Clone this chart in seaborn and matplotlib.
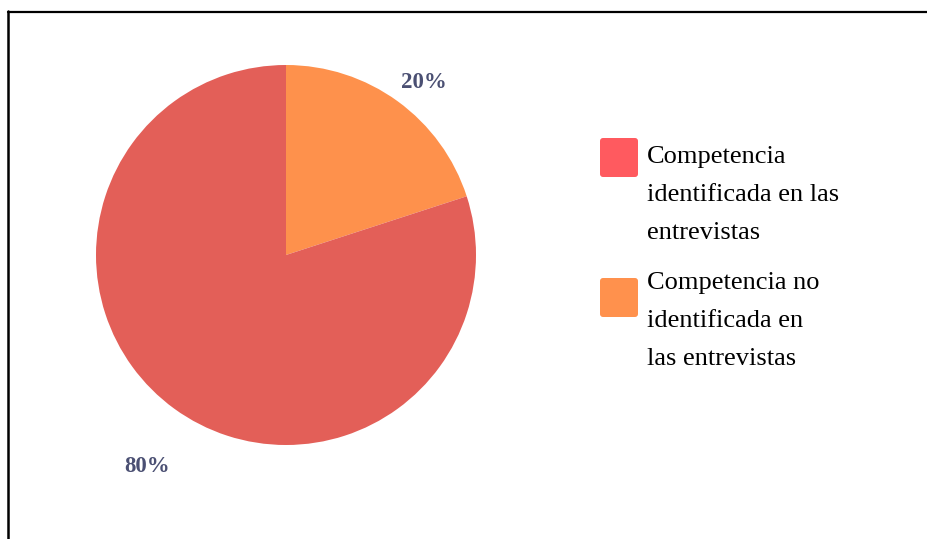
import matplotlib
matplotlib.use("Agg")
import matplotlib.pyplot as plt
from matplotlib.patches import FancyBboxPatch
from matplotlib.lines import Line2D
from matplotlib.transforms import ScaledTranslation
import numpy as np
import seaborn as sns

sns.set_theme(style="white")
plt.rcParams["font.family"] = ["Liberation Serif", "DejaVu Serif"]

# Shares of the competence in the interviews (drawn clockwise from 12 o'clock)
categories = ["Competencia no\nidentificada en\nlas entrevistas",
              "Competencia\nidentificada en las\nentrevistas"]
values = [20, 80]
pct_labels = ["20%", "80%"]
wedge_colors = ["#FE914C", "#E35F58"]
legend_colors = ["#FF914D", "#FF5A5F"]
label_dist = [1.175, 1.32]
label_turn = [-2.3, 2.4]

W, H = 928, 539
fig = plt.figure(figsize=(W / 100, H / 100), dpi=100)
fig.patch.set_facecolor("white")

cx, cy, r = 286, 255, 190
ax = fig.add_axes([(cx - r) / W, (H - cy - r) / H, 2 * r / W, 2 * r / H])
wedges, _ = ax.pie(values, colors=wedge_colors, startangle=90,
                   counterclock=False, radius=1.0,
                   wedgeprops=dict(linewidth=0))
ax.set_xlim(-1, 1)
ax.set_ylim(-1, 1)
ax.set_aspect("equal")
ax.axis("off")

nudge = ax.transData + ScaledTranslation(0, -0.03, fig.dpi_scale_trans)
for w, lab, d, turn in zip(wedges, pct_labels, label_dist, label_turn):
    ang = np.deg2rad((w.theta1 + w.theta2) / 2 + turn)
    ax.text(d * np.cos(ang), d * np.sin(ang), lab, ha="center", va="center",
            fontsize=16.5, fontweight="bold", color="#4B5073",
            transform=nudge)

# Legend drawn as rounded swatches plus wrapped labels (identified first)
inch = fig.dpi_scale_trans
entries = [(categories[1], legend_colors[1], 138, 195),
           (categories[0], legend_colors[0], 278, 321)]
for text, color, top_px, mid_px in entries:
    box = FancyBboxPatch(((600) / 100, (H - top_px - 39) / 100),
                         38 / 100, 39 / 100,
                         boxstyle="round,pad=0,rounding_size=0.03",
                         transform=inch, facecolor=color, edgecolor="none")
    fig.add_artist(box)
    fig.text(647 / W, 1 - mid_px / H, text, ha="left", va="center",
             fontsize=19, color="black", linespacing=1.93)

# Frame lines along the top and left edges
fig.add_artist(Line2D([8 / W, 1], [1 - 11.5 / H, 1 - 11.5 / H],
                      transform=fig.transFigure, color="black", lw=1.6))
fig.add_artist(Line2D([8.5 / W, 8.5 / W], [0, 1 - 11 / H],
                      transform=fig.transFigure, color="black", lw=1.8))

fig.savefig("out.png", dpi=100, facecolor="white")
